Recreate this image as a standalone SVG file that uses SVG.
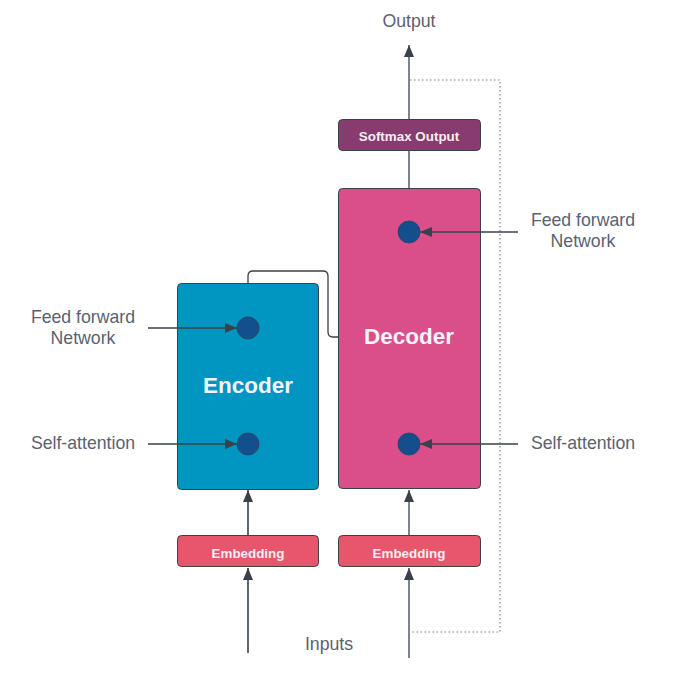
<svg xmlns="http://www.w3.org/2000/svg" width="687" height="689" viewBox="0 0 687 689">
<defs>
<marker id="ah" viewBox="0 0 12 10" refX="12" refY="5" markerWidth="12" markerHeight="10" markerUnits="userSpaceOnUse" orient="auto">
<path d="M0,0 L12,5 L0,10 Z" fill="#3a414a"/>
</marker>
<style>
.lbl{font-family:"Liberation Sans",Arial,sans-serif;font-size:17.7px;fill:#5b6270;text-anchor:middle}
.box{stroke:#3a414a;stroke-width:1}
.small{font-family:"Liberation Sans",Arial,sans-serif;font-size:13.4px;font-weight:bold;fill:#f4eef2;text-anchor:middle}
.big{font-family:"Liberation Sans",Arial,sans-serif;font-size:22.5px;font-weight:bold;fill:#f4f4f8;text-anchor:middle}
.dot{fill:#124f8c;stroke:#2a4868;stroke-width:1}
.ln{fill:none;stroke:#3a414a;stroke-width:1.3}
.lg{fill:none;stroke:#9aa0a6;stroke-width:1.8}
</style>
</defs>
<rect width="687" height="689" fill="#ffffff"/>
<g id="encoder">
<rect class="box" x="177.5" y="283.5" width="141" height="206" rx="4" fill="#0096c1"/>
<text class="big" x="248" y="393">Encoder</text>
</g>
<g id="decoder">
<rect class="box" x="338.5" y="188.5" width="142" height="300" rx="4" fill="#da4f8a"/>
<text class="big" x="409" y="344">Decoder</text>
</g>
<g id="softmax">
<rect class="box" x="338.5" y="119.5" width="142" height="31" rx="4" fill="#883b6f"/>
<text class="small" x="409" y="141">Softmax Output</text>
</g>
<g id="embedding-left">
<rect class="box" x="177.5" y="535.5" width="141" height="31" rx="4" fill="#e8566c"/>
<text class="small" x="248" y="558">Embedding</text>
</g>
<g id="embedding-right">
<rect class="box" x="338.5" y="535.5" width="142" height="31" rx="4" fill="#e8566c"/>
<text class="small" x="409" y="558">Embedding</text>
</g>
<g id="connectors">
<path class="ln" d="M409,119 V45" marker-end="url(#ah)"/>
<path class="ln" d="M409,188 V151"/>
<path d="M410,80 H500 V632 H410" fill="none" stroke="#7a7f86" stroke-width="1.2" stroke-dasharray="1.5,2.5"/>
<path class="ln" d="M248,283 V276 Q248,271 253,271 H323 Q328,271 328,276 V332 Q328,337 333,337 H339"/>
<path class="lg" d="M248,535 V490"/>
<path class="ln" stroke-width="0" d="M248,535 V490" marker-end="url(#ah)"/>
<path class="ln" d="M409,535 V490" marker-end="url(#ah)"/>
<path class="lg" d="M248,653 V568"/>
<path class="ln" stroke-width="0" d="M248,653 V568" marker-end="url(#ah)"/>
<path class="ln" d="M409,658 V568" marker-end="url(#ah)"/>
<path class="ln" d="M148,328 H237" marker-end="url(#ah)"/>
<path class="ln" d="M148,444 H237" marker-end="url(#ah)"/>
<path class="ln" d="M518,232 H420" marker-end="url(#ah)"/>
<path class="ln" d="M518,444 H420" marker-end="url(#ah)"/>
</g>
<g id="enc-ffn"><circle class="dot" cx="248" cy="328" r="11"/></g>
<g id="enc-sa"><circle class="dot" cx="248" cy="444" r="11"/></g>
<g id="dec-ffn"><circle class="dot" cx="409" cy="232" r="11"/></g>
<g id="dec-sa"><circle class="dot" cx="409" cy="444" r="11"/></g>
<g id="labels">
<text class="lbl" x="409" y="27">Output</text>
<text class="lbl" x="329" y="650">Inputs</text>
<text class="lbl" x="83" y="323">Feed forward</text>
<text class="lbl" x="83" y="344">Network</text>
<text class="lbl" x="83" y="449">Self-attention</text>
<text class="lbl" x="583" y="226">Feed forward</text>
<text class="lbl" x="583" y="247">Network</text>
<text class="lbl" x="583" y="449">Self-attention</text>
</g>
</svg>
